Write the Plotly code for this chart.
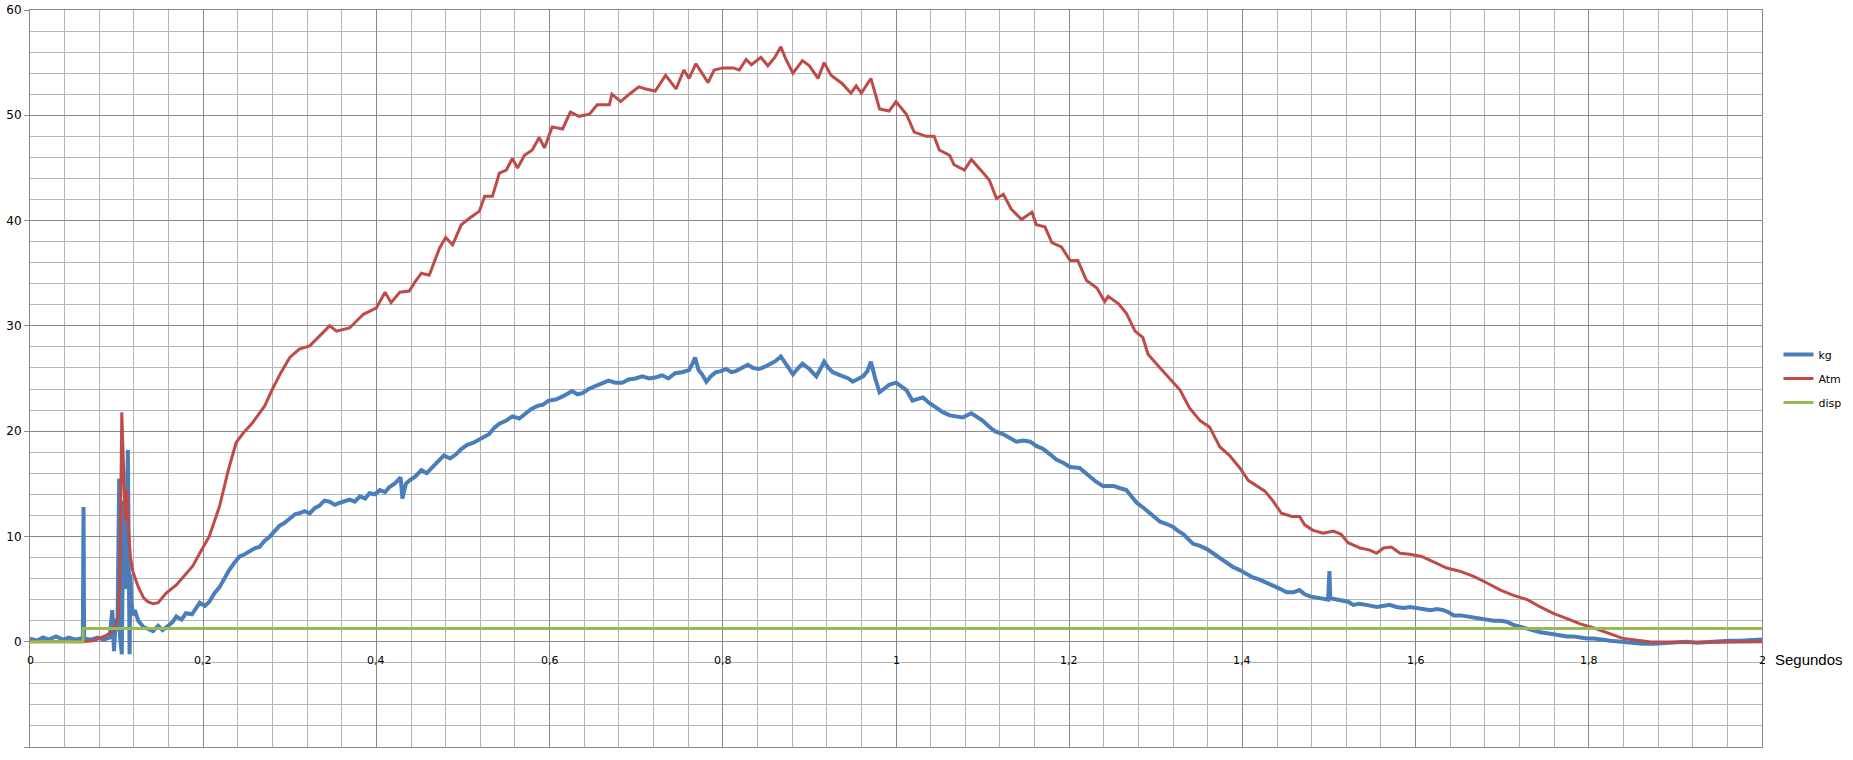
import plotly.graph_objects as go

# ---------------- data ----------------
# kg series: (time in s, value)
kg_samples = [
    (0.000, 0.3), (0.008, 0.1), (0.015, 0.4), (0.022, 0.2), (0.030, 0.5), (0.038, 0.2),
    (0.045, 0.4), (0.052, 0.2), (0.058, 0.3), (0.061, 0.2), (0.0618, 12.8), (0.0625, 0.3),
    (0.070, 0.2), (0.078, 0.4), (0.085, 0.2), (0.092, 0.4), (0.095, 3.0), (0.097, -0.9),
    (0.099, 2.2), (0.101, 1.0), (0.103, 15.5), (0.104, 0.5), (0.106, -1.2), (0.108, 13.4),
    (0.110, 5.0), (0.111, 8.7), (0.113, 18.2), (0.115, -1.2), (0.116, 6.4), (0.117, 3.9),
    (0.119, 2.5), (0.121, 3.0), (0.125, 2.0), (0.131, 1.4), (0.137, 1.2), (0.142, 1.0),
    (0.148, 1.5), (0.153, 1.1), (0.158, 1.4), (0.165, 1.9), (0.169, 2.4), (0.175, 2.1),
    (0.180, 2.7), (0.187, 2.6), (0.196, 3.7), (0.202, 3.4), (0.207, 3.8), (0.213, 4.6),
    (0.219, 5.2), (0.225, 6.1), (0.230, 6.8), (0.236, 7.5), (0.242, 8.1), (0.248, 8.3),
    (0.254, 8.6), (0.260, 8.9), (0.265, 9.0), (0.271, 9.6), (0.277, 10.0), (0.283, 10.6),
    (0.288, 11.0), (0.294, 11.3), (0.300, 11.7), (0.306, 12.1), (0.311, 12.2), (0.317, 12.4),
    (0.323, 12.2), (0.329, 12.7), (0.334, 12.9), (0.340, 13.4), (0.346, 13.3), (0.352, 13.0),
    (0.358, 13.2), (0.364, 13.4), (0.369, 13.5), (0.375, 13.3), (0.381, 13.8), (0.387, 13.6),
    (0.392, 14.1), (0.398, 14.0), (0.404, 14.4), (0.410, 14.2), (0.415, 14.7), (0.421, 15.0),
    (0.428, 15.6), (0.430, 13.6), (0.434, 15.0), (0.438, 15.3), (0.445, 15.7), (0.452, 16.3),
    (0.458, 16.0), (0.465, 16.6), (0.471, 17.1), (0.478, 17.7), (0.485, 17.4), (0.492, 17.8),
    (0.498, 18.3), (0.505, 18.7), (0.512, 18.9), (0.519, 19.2), (0.525, 19.5), (0.530, 19.7),
    (0.536, 20.3), (0.542, 20.7), (0.550, 21.0), (0.557, 21.4), (0.565, 21.2), (0.572, 21.7),
    (0.579, 22.1), (0.586, 22.4), (0.592, 22.5), (0.599, 22.9), (0.607, 23.0), (0.615, 23.3),
    (0.620, 23.5), (0.626, 23.8), (0.632, 23.5), (0.638, 23.6), (0.645, 24.0), (0.653, 24.3),
    (0.660, 24.5), (0.668, 24.8), (0.676, 24.6), (0.684, 24.6), (0.691, 24.9), (0.699, 25.0),
    (0.707, 25.2), (0.715, 25.0), (0.722, 25.1), (0.730, 25.3), (0.737, 25.0), (0.745, 25.5),
    (0.753, 25.6), (0.761, 25.8), (0.765, 26.4), (0.768, 27.0), (0.772, 25.8), (0.776, 25.4),
    (0.781, 24.7), (0.786, 25.2), (0.792, 25.6), (0.798, 25.7), (0.804, 25.9), (0.810, 25.6),
    (0.815, 25.7), (0.822, 26.0), (0.829, 26.3), (0.835, 26.0), (0.842, 25.9), (0.848, 26.1),
    (0.854, 26.3), (0.860, 26.6), (0.867, 27.1), (0.874, 26.3), (0.881, 25.4), (0.886, 25.9),
    (0.892, 26.4), (0.900, 25.9), (0.908, 25.2), (0.912, 25.8), (0.917, 26.6), (0.922, 26.0),
    (0.927, 25.6), (0.933, 25.4), (0.939, 25.2), (0.945, 25.0), (0.950, 24.7), (0.956, 25.0),
    (0.962, 25.2), (0.967, 25.7), (0.971, 26.6), (0.976, 25.0), (0.981, 23.7), (0.986, 24.0),
    (0.992, 24.4), (1.000, 24.6), (1.006, 24.2), (1.012, 23.9), (1.019, 22.9), (1.025, 23.1),
    (1.031, 23.2), (1.038, 22.7), (1.046, 22.2), (1.054, 21.8), (1.062, 21.5), (1.070, 21.4),
    (1.077, 21.3), (1.087, 21.7), (1.094, 21.3), (1.100, 21.0), (1.108, 20.4), (1.114, 20.0),
    (1.124, 19.7), (1.131, 19.4), (1.139, 19.0), (1.147, 19.1), (1.155, 19.0), (1.162, 18.6),
    (1.170, 18.3), (1.178, 17.8), (1.185, 17.3), (1.193, 17.0), (1.201, 16.6), (1.212, 16.5),
    (1.218, 16.1), (1.224, 15.6), (1.231, 15.2), (1.239, 14.8), (1.251, 14.8), (1.258, 14.6),
    (1.266, 14.4), (1.272, 13.8), (1.278, 13.2), (1.286, 12.7), (1.293, 12.2), (1.299, 11.8),
    (1.305, 11.4), (1.312, 11.2), (1.320, 10.9), (1.326, 10.5), (1.332, 10.2), (1.343, 9.3),
    (1.351, 9.1), (1.359, 8.8), (1.366, 8.4), (1.374, 8.0), (1.382, 7.5), (1.389, 7.1),
    (1.397, 6.8), (1.405, 6.4), (1.412, 6.1), (1.420, 5.9), (1.428, 5.6), (1.436, 5.4),
    (1.444, 5.0), (1.451, 4.7), (1.459, 4.7), (1.466, 4.9), (1.472, 4.5), (1.478, 4.3),
    (1.484, 4.2), (1.489, 4.1), (1.494, 4.1), (1.499, 4.0), (1.5005, 6.7), (1.5015, 4.1),
    (1.503, 4.1), (1.508, 4.0), (1.512, 4.0), (1.517, 3.9), (1.522, 3.8), (1.528, 3.5),
    (1.535, 3.6), (1.543, 3.5), (1.549, 3.4), (1.555, 3.3), (1.562, 3.4), (1.570, 3.5),
    (1.578, 3.3), (1.586, 3.2), (1.594, 3.3), (1.601, 3.2), (1.609, 3.1), (1.617, 3.0),
    (1.625, 3.1), (1.632, 3.0), (1.638, 2.8), (1.644, 2.5), (1.652, 2.5), (1.659, 2.4),
    (1.667, 2.3), (1.674, 2.2), (1.682, 2.1), (1.690, 2.0), (1.698, 2.0), (1.705, 1.9),
    (1.713, 1.6), (1.721, 1.4), (1.729, 1.2), (1.736, 1.1), (1.744, 0.9), (1.752, 0.8),
    (1.760, 0.7), (1.767, 0.6), (1.775, 0.5), (1.783, 0.5), (1.790, 0.4), (1.798, 0.3),
    (1.806, 0.3), (1.813, 0.2), (1.825, 0.1), (1.838, 0.0), (1.850, -0.1), (1.862, -0.2),
    (1.875, -0.2), (1.888, -0.1), (1.900, -0.1), (1.912, 0.0), (1.925, -0.1), (1.938, 0.0),
    (1.950, 0.0), (1.962, 0.1), (1.975, 0.1), (1.988, 0.2), (2.000, 0.2),
]

# Atm series: (time in s, value)
atm_samples = [
    (0.000, 0.0), (0.060, 0.0), (0.073, 0.1), (0.088, 0.6), (0.096, 1.0), (0.100, 1.8),
    (0.102, 2.6), (0.104, 7.0), (0.106, 21.8), (0.108, 16.0), (0.110, 11.5), (0.112, 14.4),
    (0.114, 10.3), (0.116, 8.0), (0.119, 6.6), (0.125, 5.2), (0.131, 4.2), (0.136, 3.8),
    (0.142, 3.6), (0.148, 3.7), (0.157, 4.6), (0.169, 5.4), (0.177, 6.2), (0.188, 7.2),
    (0.196, 8.4), (0.207, 10.0), (0.219, 12.9), (0.229, 16.3), (0.238, 18.9), (0.246, 19.8),
    (0.257, 20.8), (0.271, 22.4), (0.280, 24.0), (0.290, 25.6), (0.300, 27.0), (0.311, 27.8),
    (0.323, 28.1), (0.334, 29.0), (0.346, 30.0), (0.354, 29.5), (0.369, 29.8), (0.385, 31.1),
    (0.400, 31.7), (0.410, 33.2), (0.417, 32.2), (0.427, 33.2), (0.438, 33.3), (0.444, 34.1),
    (0.452, 35.0), (0.461, 34.8), (0.467, 36.2), (0.473, 37.4), (0.480, 38.4), (0.488, 37.7),
    (0.498, 39.6), (0.507, 40.2), (0.519, 40.9), (0.525, 42.3), (0.534, 42.3), (0.542, 44.5),
    (0.550, 44.8), (0.557, 45.9), (0.563, 45.0), (0.571, 46.2), (0.580, 46.7), (0.588, 47.9),
    (0.594, 46.9), (0.603, 48.9), (0.615, 48.7), (0.624, 50.3), (0.634, 49.9), (0.646, 50.1),
    (0.655, 51.0), (0.669, 51.0), (0.672, 52.0), (0.682, 51.3), (0.692, 52.0), (0.703, 52.7),
    (0.711, 52.5), (0.722, 52.3), (0.734, 53.8), (0.746, 52.5), (0.755, 54.3), (0.761, 53.5),
    (0.769, 54.9), (0.783, 53.1), (0.790, 54.3), (0.800, 54.5), (0.812, 54.5), (0.819, 54.3),
    (0.827, 55.3), (0.833, 54.8), (0.844, 55.5), (0.852, 54.7), (0.860, 55.5), (0.867, 56.5),
    (0.873, 55.3), (0.881, 54.0), (0.892, 55.2), (0.900, 54.7), (0.910, 53.5), (0.917, 55.0),
    (0.925, 53.8), (0.938, 53.0), (0.948, 52.1), (0.954, 52.8), (0.960, 52.1), (0.971, 53.5),
    (0.981, 50.6), (0.992, 50.4), (1.000, 51.3), (1.012, 50.1), (1.021, 48.4), (1.035, 48.0),
    (1.044, 48.0), (1.050, 46.7), (1.062, 46.2), (1.067, 45.3), (1.079, 44.8), (1.087, 45.8),
    (1.100, 44.6), (1.108, 43.8), (1.116, 42.1), (1.124, 42.5), (1.133, 41.1), (1.145, 40.1),
    (1.157, 40.8), (1.162, 39.6), (1.172, 39.4), (1.180, 37.9), (1.191, 37.5), (1.201, 36.2),
    (1.210, 36.2), (1.220, 34.3), (1.232, 33.6), (1.241, 32.3), (1.245, 32.8), (1.257, 32.1),
    (1.266, 31.2), (1.276, 29.5), (1.285, 28.9), (1.291, 27.3), (1.305, 26.0), (1.316, 25.0),
    (1.328, 23.9), (1.339, 22.2), (1.351, 21.0), (1.362, 20.4), (1.374, 18.5), (1.385, 17.7),
    (1.397, 16.5), (1.407, 15.3), (1.416, 14.8), (1.426, 14.3), (1.435, 13.4), (1.445, 12.2),
    (1.457, 11.9), (1.466, 11.9), (1.472, 11.1), (1.481, 10.6), (1.493, 10.3), (1.505, 10.5),
    (1.514, 10.2), (1.522, 9.4), (1.536, 8.9), (1.547, 8.7), (1.555, 8.4), (1.563, 8.9),
    (1.572, 9.0), (1.582, 8.4), (1.593, 8.3), (1.607, 8.1), (1.620, 7.6), (1.636, 7.0),
    (1.651, 6.7), (1.667, 6.2), (1.682, 5.6), (1.698, 4.9), (1.713, 4.4), (1.729, 4.0),
    (1.744, 3.3), (1.759, 2.7), (1.775, 2.2), (1.790, 1.7), (1.806, 1.3), (1.825, 0.7),
    (1.840, 0.3), (1.870, 0.0), (1.900, -0.05), (1.950, -0.05), (2.000, 0.0),
]

# disp series (step)
disp_t = [0.0, 0.0613, 2.0]
disp_v = [0.0, 1.25, 1.25]

series_names = ["kg", "Atm", "disp"]
series_colors = ["#4a7ebb", "#be4b48", "#98b954"]

x_tick_vals = [0, 0.2, 0.4, 0.6, 0.8, 1.0, 1.2, 1.4, 1.6, 1.8, 2.0]
x_tick_text = ["0", "0,2", "0,4", "0,6", "0,8", "1", "1,2", "1,4", "1,6", "1,8", "2"]
y_tick_vals = [-10, 0, 10, 20, 30, 40, 50, 60]
y_tick_text = ["", "0", "10", "20", "30", "40", "50", "60"]
x_title = "Segundos"

kg_t = [p[0] for p in kg_samples]
kg_v = [p[1] for p in kg_samples]
atm_t = [p[0] for p in atm_samples]
atm_v = [p[1] for p in atm_samples]

# ---------------- figure ----------------
fig = go.Figure()
fig.add_trace(go.Scatter(x=kg_t, y=kg_v, mode="lines", name=series_names[0],
                         legendgroup="a",
                         line=dict(color=series_colors[0], width=4)))
fig.add_trace(go.Scatter(x=atm_t, y=atm_v, mode="lines", name=series_names[1],
                         legendgroup="b",
                         line=dict(color=series_colors[1], width=3)))
fig.add_trace(go.Scatter(x=disp_t, y=disp_v, mode="lines", name=series_names[2],
                         legendgroup="c", line_shape="hv",
                         line=dict(color=series_colors[2], width=3)))

major_c = "#8a8a8a"
minor_c = "#b5b5b5"

fig.update_xaxes(
    range=[0, 2], tickmode="array", tickvals=x_tick_vals, showticklabels=False,
    showgrid=True, gridcolor=major_c, gridwidth=1, zeroline=False,
    showline=True, linecolor=major_c, linewidth=1, mirror=True, ticks="",
    automargin=False,
    minor=dict(tick0=0, dtick=0.04, showgrid=True, gridcolor=minor_c, gridwidth=1),
)
fig.update_yaxes(
    range=[-10, 60], tickmode="array", tickvals=y_tick_vals, ticktext=y_tick_text,
    showgrid=True, gridcolor=major_c, gridwidth=1, zeroline=False,
    showline=True, linecolor=major_c, linewidth=1, mirror=True,
    ticks="outside", ticklen=5, tickcolor=major_c, automargin=False,
    tickfont=dict(family="DejaVu Sans", size=12, color="#000000"),
    minor=dict(tick0=0, dtick=2, showgrid=True, gridcolor=minor_c, gridwidth=1),
)

annotations = []
for v, txt in zip(x_tick_vals, x_tick_text):
    annotations.append(dict(x=v, y=0, xref="x", yref="y", text=txt, showarrow=False,
                            xanchor="center", yanchor="top", yshift=-10,
                            font=dict(family="DejaVu Sans", size=11, color="#000000")))
annotations.append(dict(x=1.0064, y=0, xref="paper", yref="y", text=x_title,
                        showarrow=False, xanchor="left", yanchor="middle", yshift=-18,
                        font=dict(family="Liberation Sans", size=15, color="#000000")))

fig.update_layout(
    width=1853, height=760, autosize=False,
    margin=dict(l=30, r=91, t=10, b=13, pad=0, autoexpand=False),
    paper_bgcolor="white", plot_bgcolor="white",
    font=dict(family="DejaVu Sans", size=11, color="#000000"),
    showlegend=True,
    legend=dict(x=1.0095, y=0.5, xanchor="left", yanchor="middle",
                font=dict(family="DejaVu Sans", size=11, color="#000000"),
                tracegroupgap=5, itemwidth=30, bgcolor="rgba(0,0,0,0)",
                borderwidth=0),
    annotations=annotations,
)

fig.write_html("out.html", config={"displayModeBar": False},
               post_script="document.body.style.margin='0';document.body.style.overflow='hidden';")
